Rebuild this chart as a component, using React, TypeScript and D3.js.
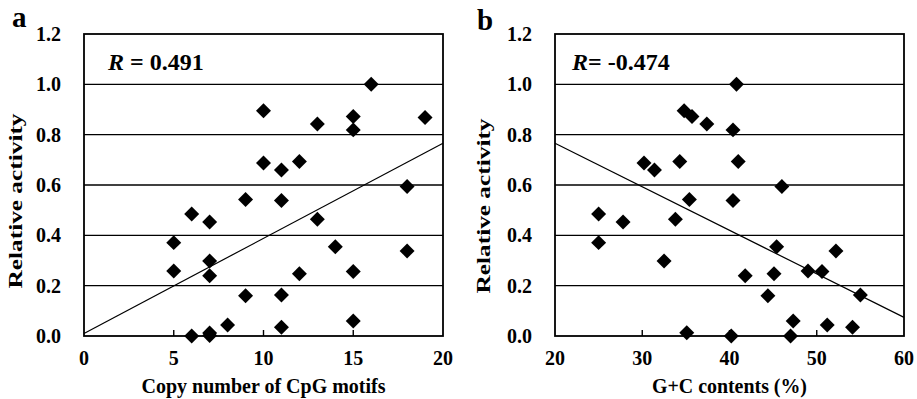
import React from "react";
import * as d3 from "d3";

// ---- Data ----
const cpgCopies = [16, 10, 13, 15, 15, 19, 10, 11, 12, 18, 9, 11, 6, 7, 5, 5, 7, 7, 13, 14, 18, 12, 15, 9, 11, 8, 11, 15, 6, 7, 7];
const activityA = [1.0, 0.895, 0.842, 0.872, 0.819, 0.868, 0.687, 0.66, 0.693, 0.594, 0.542, 0.538, 0.485, 0.453, 0.371, 0.258, 0.298, 0.239, 0.464, 0.355, 0.338, 0.247, 0.256, 0.16, 0.163, 0.044, 0.035, 0.06, 0.0, 0.012, 0.002];

const gcContent = [40.8, 34.8, 35.7, 37.4, 40.4, 30.2, 31.4, 34.3, 41.0, 46.0, 35.4, 40.4, 25, 27.8, 33.8, 25, 32.5, 45.4, 52.2, 41.8, 45.1, 49, 50.6, 44.4, 55, 47.3, 51.2, 54.1, 35.1, 40.2, 47];
const activityB = [1.0, 0.895, 0.872, 0.842, 0.819, 0.687, 0.66, 0.693, 0.693, 0.594, 0.542, 0.538, 0.485, 0.453, 0.464, 0.371, 0.298, 0.355, 0.338, 0.239, 0.247, 0.258, 0.256, 0.16, 0.163, 0.06, 0.044, 0.035, 0.013, 0.0, 0.0];

// regression lines [intercept, slope]
const fitA = [0.01, 0.0378];
const fitB = [1.112, -0.0173];

const yTicks = [0, 0.2, 0.4, 0.6, 0.8, 1.0, 1.2];
const xTicksA = [0, 5, 10, 15, 20];
const xTicksB = [20, 30, 40, 50, 60];

const FONT = "'Liberation Serif', 'Times New Roman', serif";

type PanelProps = {
  left: number;
  right: number;
  xDomain: [number, number];
  xTicks: number[];
  xs: number[];
  ys: number[];
  fit: number[];
  letter: string;
  letterX: number;
  letterY: number;
  rLabel: string;
  rValue: string;
  rX: number;
  xTitle: string;
  xTitleLen: number;
  yTitleX: number;
  yTitleY: number;
};

const TOP = 34;
const BOTTOM = 336;

function Panel(p: PanelProps) {
  const x = d3.scaleLinear().domain(p.xDomain).range([p.left, p.right]);
  const y = d3.scaleLinear().domain([0, 1.2]).range([BOTTOM, TOP]);
  const diamond = d3.symbol(d3.symbolSquare, 112)()!;
  const fx0 = p.xDomain[0];
  const fx1 = p.xDomain[1];
  const line = d3.line<number>().x((v) => x(v)).y((v) => y(p.fit[0] + p.fit[1] * v));
  return (
    <g>
      {yTicks.slice(1, -1).map((t) => (
        <line key={t} x1={p.left} x2={p.right} y1={y(t)} y2={y(t)} stroke="#000" strokeWidth={1.4} />
      ))}
      {p.xTicks.slice(1, -1).map((t) => (
        <line key={t} x1={x(t)} x2={x(t)} y1={BOTTOM} y2={BOTTOM - 6} stroke="#000" strokeWidth={1.4} />
      ))}
      <rect x={p.left} y={TOP} width={p.right - p.left} height={BOTTOM - TOP} fill="none" stroke="#000" strokeWidth={1.8} />
      <path d={line([fx0, fx1]) || ""} fill="none" stroke="#000" strokeWidth={1.2} />
      {p.xs.map((v, i) => (
        <path key={i} d={diamond} transform={`translate(${x(v)},${y(p.ys[i])}) rotate(45)`} fill="#000" />
      ))}
      {yTicks.map((t) => (
        <text key={t} x={p.left - 23} y={y(t)} dy="0.35em" textAnchor="end" fontFamily={FONT} fontWeight="bold" fontSize={20}>
          {t.toFixed(1)}
        </text>
      ))}
      {p.xTicks.map((t) => (
        <text key={t} x={x(t)} y={365} textAnchor="middle" fontFamily={FONT} fontWeight="bold" fontSize={20}>
          {t}
        </text>
      ))}
      <text
        x={(p.left + p.right) / 2}
        y={393}
        textAnchor="middle"
        fontFamily={FONT}
        fontWeight="bold"
        fontSize={20}
        textLength={p.xTitleLen}
        lengthAdjust="spacingAndGlyphs"
      >
        {p.xTitle}
      </text>
      <text
        transform={`translate(${p.yTitleX},${p.yTitleY}) rotate(-90)`}
        textAnchor="middle"
        fontFamily={FONT}
        fontWeight="bold"
        fontSize={19}
        textLength={175}
        lengthAdjust="spacingAndGlyphs"
      >
        Relative activity
      </text>
      <text x={p.letterX} y={p.letterY} fontFamily={FONT} fontWeight="bold" fontSize={29}>
        {p.letter}
      </text>
      <text x={p.rX} y={70} fontFamily={FONT} fontWeight="bold" fontSize={24}>
        <tspan fontStyle="italic">R</tspan>
        {p.rLabel}
        {p.rValue}
      </text>
    </g>
  );
}

export default function App() {
  return (
    <svg width={917} height={399} style={{ position: "absolute", left: 0, top: 0, background: "#fff" }}>
      <rect x={0} y={0} width={917} height={399} fill="#fff" />
      <Panel
        left={84}
        right={443}
        xDomain={[0, 20]}
        xTicks={xTicksA}
        xs={cpgCopies}
        ys={activityA}
        fit={fitA}
        letter="a"
        letterX={12}
        letterY={27}
        rLabel=" = "
        rValue="0.491"
        rX={108}
        xTitle="Copy number of CpG motifs"
        xTitleLen={244}
        yTitleX={22}
        yTitleY={201}
      />
      <Panel
        left={555}
        right={904}
        xDomain={[20, 60]}
        xTicks={xTicksB}
        xs={gcContent}
        ys={activityB}
        fit={fitB}
        letter="b"
        letterX={477}
        letterY={30}
        rLabel="= "
        rValue="-0.474"
        rX={572}
        xTitle="G+C contents (%)"
        xTitleLen={155}
        yTitleX={490}
        yTitleY={206}
      />
    </svg>
  );
}
